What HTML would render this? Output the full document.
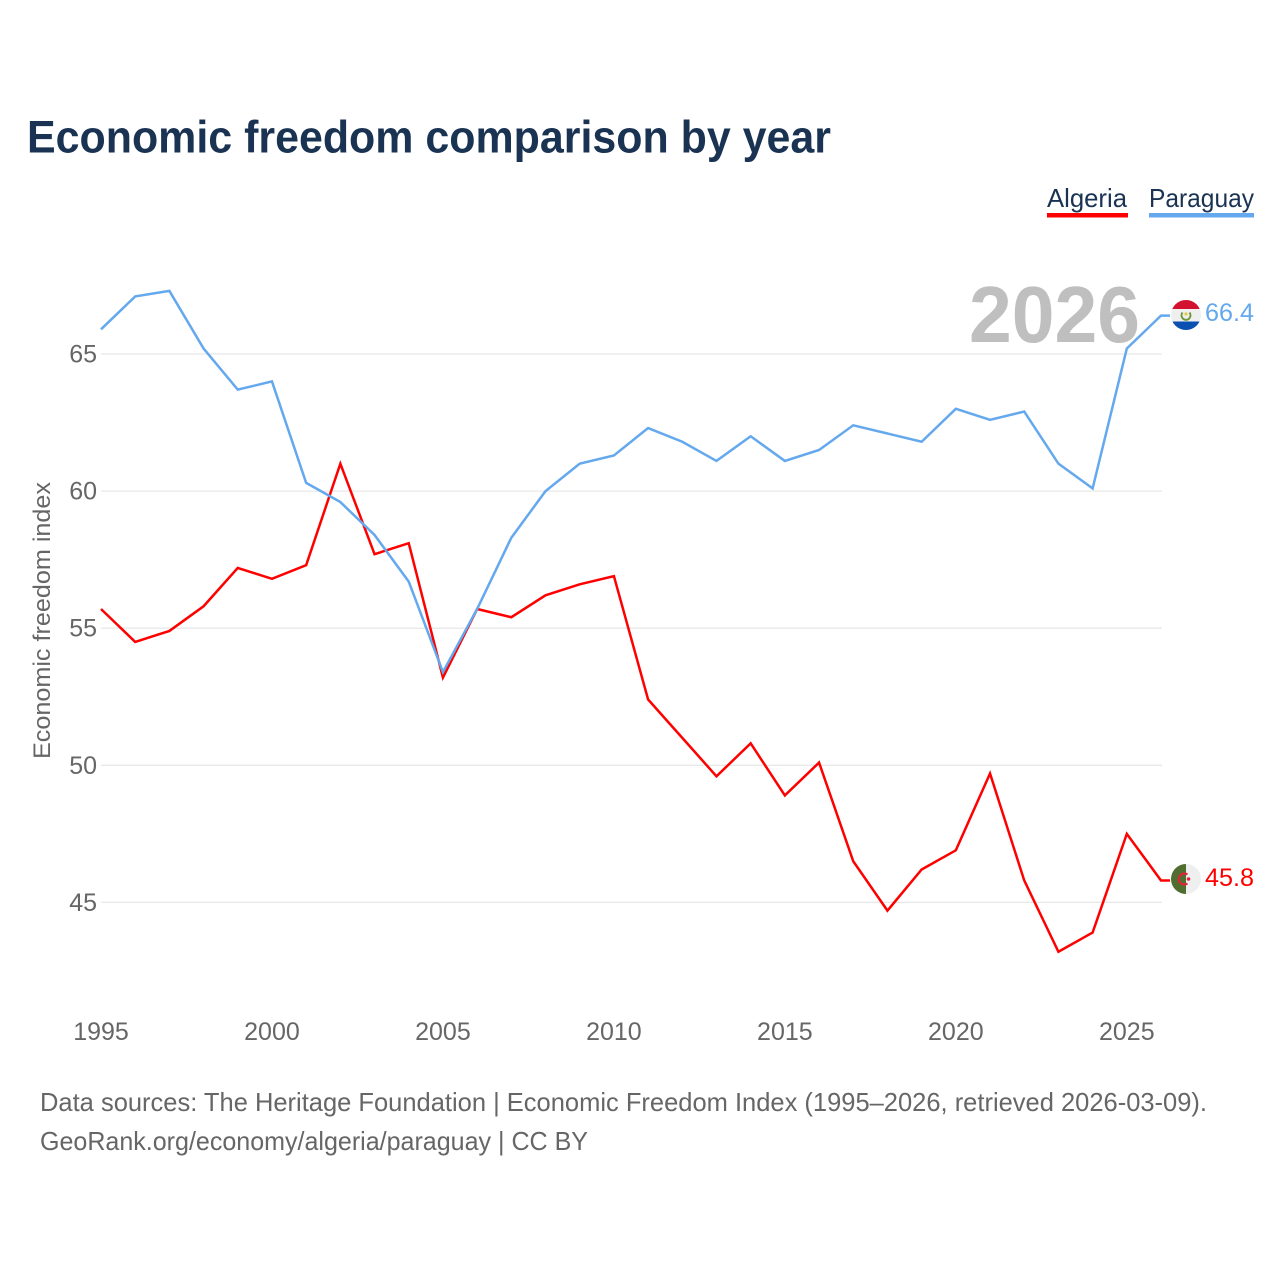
<!DOCTYPE html>
<html lang="en">
<head>
<meta charset="utf-8">
<title>Economic freedom comparison by year</title>
<style>
html,body{margin:0;padding:0;background:#fff;width:1280px;height:1280px;overflow:hidden}
svg{display:block}
text{font-family:"Liberation Sans",sans-serif}
</style>
</head>
<body>
<svg id="chart" xmlns="http://www.w3.org/2000/svg" width="1280" height="1280" viewBox="0 0 1280 1280">
  <defs>
    <clipPath id="flag-clip-py"><circle cx="1186" cy="315" r="15"/></clipPath>
    <clipPath id="flag-clip-dz"><circle cx="1186" cy="879" r="15"/></clipPath>
  </defs>
  <rect x="0" y="0" width="1280" height="1280" fill="#ffffff"/>
  <text x="27" y="152.5" font-size="45" font-weight="700" fill="#1a3353" textLength="804" lengthAdjust="spacingAndGlyphs">Economic freedom comparison by year</text>

  <g id="grid"></g>
  <g id="yticks"></g>
  <g id="xticks"></g>

  <text transform="translate(50,759) rotate(-90)" x="0" y="0" font-size="24" fill="#666666" textLength="277" lengthAdjust="spacingAndGlyphs">Economic freedom index</text>

  <text x="969" y="342" font-size="80" font-weight="700" fill="#bfbfbf" textLength="171" lengthAdjust="spacingAndGlyphs">2026</text>

  <g id="series"></g>

  <g>
    <text x="1047" y="207" font-size="26" fill="#1a3353" textLength="80" lengthAdjust="spacingAndGlyphs">Algeria</text>
    <rect x="1047" y="213" width="81" height="4.5" fill="#ff0000"/>
  </g>
  <g>
    <text x="1149" y="207" font-size="26" fill="#1a3353" textLength="105" lengthAdjust="spacingAndGlyphs">Paraguay</text>
    <rect x="1149" y="213" width="105" height="4.5" fill="#64a8ee"/>
  </g>

  <g clip-path="url(#flag-clip-py)">
    <rect x="1170" y="299" width="33" height="10" fill="#d3122f"/>
    <rect x="1170" y="309" width="33" height="12.5" fill="#efefef"/>
    <rect x="1170" y="321.5" width="33" height="11" fill="#0b4fb0"/>
    <path d="M1182.5 312.5 A4.5 4.5 0 1 0 1189.5 312.5" fill="none" stroke="#6d9a3c" stroke-width="2"/>
    <circle cx="1186" cy="314" r="1.6" fill="#e8c84a"/>
  </g>
  <g clip-path="url(#flag-clip-dz)">
    <rect x="1170" y="863" width="16" height="32" fill="#4f6e2f"/>
    <rect x="1186" y="863" width="17" height="32" fill="#efefef"/>
    <path d="M1187.5 874.5 A5.5 5.5 0 1 0 1187.5 883.5" fill="none" stroke="#e8203a" stroke-width="2"/>
    <circle cx="1188.5" cy="879" r="1.8" fill="#e8203a"/>
  </g>

  <text id="value-paraguay" x="1205" y="321" font-size="25" fill="#64a8ee" textLength="49" lengthAdjust="spacingAndGlyphs"></text>
  <text id="value-algeria" x="1205" y="886" font-size="25" fill="#ff0000" textLength="49" lengthAdjust="spacingAndGlyphs"></text>

  <text x="40" y="1111" font-size="26" fill="#666666" textLength="1167" lengthAdjust="spacingAndGlyphs">Data sources: The Heritage Foundation | Economic Freedom Index (1995–2026, retrieved 2026-03-09).</text>
  <text x="40" y="1150" font-size="26" fill="#666666" textLength="548" lengthAdjust="spacingAndGlyphs">GeoRank.org/economy/algeria/paraguay | CC BY</text>
</svg>
<script>
const years = [1995,1996,1997,1998,1999,2000,2001,2002,2003,2004,2005,2006,2007,2008,2009,2010,2011,2012,2013,2014,2015,2016,2017,2018,2019,2020,2021,2022,2023,2024,2025,2026];
const algeria = [55.7,54.5,54.9,55.8,57.2,56.8,57.3,61.0,57.7,58.1,53.2,55.7,55.4,56.2,56.6,56.9,52.4,51.0,49.6,50.8,48.9,50.1,46.5,44.7,46.2,46.9,49.7,45.8,43.2,43.9,47.5,45.8];
const paraguay = [65.9,67.1,67.3,65.2,63.7,64.0,60.3,59.6,58.4,56.7,53.4,55.7,58.3,60.0,61.0,61.3,62.3,61.8,61.1,62.0,61.1,61.5,62.4,62.1,61.8,63.0,62.6,62.9,61.0,60.1,65.2,66.4];
const yTicks = [45,50,55,60,65];
const xTicks = [1995,2000,2005,2010,2015,2020,2025];

const NS = 'http://www.w3.org/2000/svg';
const xScale = function (year) { return 101 + (year - 1995) * (1161 - 101) / 31; };
const yScale = function (value) { return 354 + (65 - value) * 27.42; };

const grid = document.getElementById('grid');
const yGroup = document.getElementById('yticks');
const xGroup = document.getElementById('xticks');
const seriesGroup = document.getElementById('series');

yTicks.forEach(function (t) {
  const line = document.createElementNS(NS, 'line');
  
  
  line.setAttribute('x1', 101);
  line.setAttribute('x2', 1162);
  line.setAttribute('y1', yScale(t));
  line.setAttribute('y2', yScale(t));
  line.setAttribute('stroke', '#e8e8e8');
  line.setAttribute('stroke-width', '1.3');
  grid.appendChild(line);

  const label = document.createElementNS(NS, 'text');
  
  
  label.setAttribute('x', 97);
  label.setAttribute('y', yScale(t) + 8.5);
  label.setAttribute('text-anchor', 'end');
  label.setAttribute('font-size', '25');
  label.setAttribute('fill', '#666666');
  label.textContent = String(t);
  yGroup.appendChild(label);
});

xTicks.forEach(function (t) {
  const label = document.createElementNS(NS, 'text');
  
  
  label.setAttribute('x', xScale(t));
  label.setAttribute('y', 1040);
  label.setAttribute('text-anchor', 'middle');
  label.setAttribute('font-size', '25');
  label.setAttribute('fill', '#666666');
  label.textContent = String(t);
  xGroup.appendChild(label);
});

function toPoints(values) {
  const pts = values.map(function (v, i) {
    return xScale(years[i]).toFixed(2) + ',' + yScale(v).toFixed(2);
  });
  pts.push('1170,' + yScale(values[values.length - 1]).toFixed(2));
  return pts.join(' ');
}

const algeriaLine = document.createElementNS(NS, 'polyline');


algeriaLine.setAttribute('points', toPoints(algeria));
algeriaLine.setAttribute('fill', 'none');
algeriaLine.setAttribute('stroke', '#ff0000');
algeriaLine.setAttribute('stroke-width', '2.5');
algeriaLine.setAttribute('stroke-linejoin', 'miter');
seriesGroup.appendChild(algeriaLine);

const paraguayLine = document.createElementNS(NS, 'polyline');


paraguayLine.setAttribute('points', toPoints(paraguay));
paraguayLine.setAttribute('fill', 'none');
paraguayLine.setAttribute('stroke', '#64a8ee');
paraguayLine.setAttribute('stroke-width', '2.5');
paraguayLine.setAttribute('stroke-linejoin', 'miter');
seriesGroup.appendChild(paraguayLine);

document.getElementById('value-paraguay').textContent = paraguay[paraguay.length - 1].toFixed(1);
document.getElementById('value-algeria').textContent = algeria[algeria.length - 1].toFixed(1);
</script>
</body>
</html>
